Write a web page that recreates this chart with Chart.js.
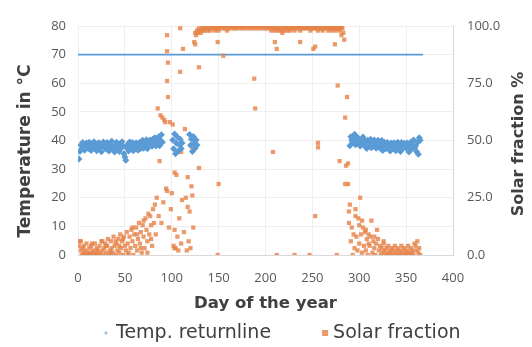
<!DOCTYPE html>
<html>
<head>
<meta charset="utf-8">
<script src="https://cdn.jsdelivr.net/npm/chart.js@4.4.1/dist/chart.umd.min.js"></script>
<style>
  html, body { margin: 0; padding: 0; background: #ffffff; }
  #wrap { width: 532px; height: 347px; }
</style>
</head>
<body>
<div id="wrap"><canvas id="grafico" width="532" height="347"></canvas></div>
<script>
// Temperatura de retorno (°C): tramos de dias consecutivos
const tempRunStart = [1, 101, 119, 290];
const tempRunValues = [
  [33.5, 36.2, 38.4, 37.1, 39.3, 38.0, 36.6, 37.8, 39.1, 38.3,
   37.2, 39.4, 38.1, 36.5, 38.7, 37.4, 39.6, 38.2, 37.0, 36.4,
   38.5, 39.2, 37.3, 38.8, 36.1, 38.2, 39.5, 37.6, 38.4, 37.0,
   39.3, 38.1, 36.3, 38.6, 37.5, 39.7, 38.0, 37.2, 36.0, 38.3,
   39.4, 37.1, 38.5, 36.2, 38.8, 37.3, 39.6, 38.1, 35.4, 34.2,
   33.1, 37.4, 38.6, 36.3, 39.5, 38.2, 37.0, 39.3, 36.4, 38.1,
   37.5, 39.2, 38.4, 36.6, 38.0, 39.4, 37.2, 38.7, 40.1, 37.3,
   39.0, 38.2, 40.3, 37.1, 39.5, 38.3, 40.2, 39.1, 38.0, 40.4,
   39.2, 41.0, 38.1, 40.3, 39.5, 41.3, 38.2, 40.1, 42.0, 39.4],
  [40.2, 37.1, 42.3, 35.4, 39.0, 41.2, 36.3, 38.5, 40.4, 37.2, 39.1],
  [42.1, 38.3, 40.5, 36.2, 41.4, 39.0, 37.3, 40.2, 38.4],
  [38.2, 41.3, 40.1, 39.4, 41.0, 42.2, 38.5, 40.3, 41.1, 39.2,
   40.4, 38.1, 40.2, 39.5, 41.2, 38.3, 40.0, 39.4, 37.2, 40.1,
   39.3, 38.0, 40.4, 37.5, 39.1, 38.4, 40.2, 39.0, 37.3, 38.6,
   40.1, 39.2, 37.4, 38.3, 40.0, 36.5, 38.2, 39.4, 37.1, 38.5,
   39.3, 37.2, 38.4, 36.3, 39.1, 38.0, 37.5, 39.2, 38.3, 36.4,
   38.1, 39.4, 37.0, 38.5, 36.2, 39.3, 38.1, 37.4, 39.0, 38.2,
   37.3, 39.1, 38.4, 36.0, 38.2, 39.5, 37.1, 38.3, 40.2, 37.4,
   38.1, 36.2, 39.3, 35.2, 41.0, 40.1]
];

// Linea horizontal de referencia (°C)
const refLineDays = [0, 368];
const refLineTemp = [70, 70];

// Fraccion solar (%), un valor por dia (dia 1 a 365)
const solarDaily = [
  4, 6, 2, 0, 3, 1, 0, 2, 5, 1,
  0, 3, 1, 4, 0, 2, 1, 5, 0, 3,
  2, 0, 4, 1, 6, 2, 0, 3, 5, 1,
  4, 7, 0, 2, 6, 3, 1, 8, 4, 0,
  5, 2, 7, 1, 9, 3, 6, 0, 8, 4,
  2, 10, 5, 1, 8, 3, 11, 6, 0, 9,
  4, 12, 2, 7, 14, 5, 10, 1, 13, 8,
  3, 16, 11, 6, 18, 9, 17, 13, 4, 20,
  14, 22, 9, 25, 64, 17, 41, 61, 14, 60,
  23, 59, 58, 29, 76, 69, 12, 58, 20, 27,
  57, 4, 11, 3, 35, 8, 2, 16, 99, 5,
  24, 90, 10, 55, 25, 2, 34, 6, 19, 3,
  30, 26, 12,
  93, 97, 96, 98, 97, 99, 98, 97, 99, 98,
  99, 98, 100, 99, 98, 99, 100, 98, 99, 100,
  99, 100, 98, 99, 100, 99, 98, 100, 99, 100,
  100, 99, 100, 99, 100, 98, 100, 99, 100, 100,
  99, 100, 100, 99, 100, 99, 100, 100, 99, 100,
  100, 99, 100, 100, 99, 100, 100, 99, 100, 100,
  99, 100, 100, 99, 100, 100, 99, 100, 100, 99,
  100, 100, 99, 100, 100, 99, 100, 99, 100, 100,
  99, 100, 98, 99, 100, 99, 98, 100, 99, 98,
  99, 100, 98, 99, 97, 99, 98, 100, 99, 98,
  100, 99, 98, 100, 99, 100, 99, 98, 100, 99,
  100, 99, 100, 98, 99, 100, 99, 100, 99, 100,
  99, 100, 99, 100, 98, 99, 100, 99, 100, 99,
  100, 99, 98, 100, 99, 100, 99, 98, 99, 100,
  99, 100, 99, 98, 99, 100, 99, 98, 99, 100,
  99, 98, 99, 100, 99, 98, 99, 100, 99, 97, 94,
  60, 39, 69, 31, 19, 22, 6, 12, 0, 9,
  3, 17, 8, 2, 16, 5, 25, 9, 1, 12,
  4, 10, 2, 7, 0, 5, 4, 8, 15, 1,
  6, 3, 0, 5, 11, 7, 2, 4, 0, 3,
  1, 5, 2, 0, 3, 1, 4, 0, 2, 1,
  3, 0, 2, 4, 1, 0, 3, 2, 0, 1,
  4, 2, 0, 3, 1, 0, 2, 4, 1, 0,
  3, 1, 2, 0, 5, 4, 2, 6, 1, 3, 0
];

// Puntos adicionales de fraccion solar (dias con mas de un valor)
const solarExtraDay = [3, 6, 12, 15, 20, 26, 30, 35, 40, 44, 48, 53, 58, 63, 67, 70, 74, 78,
  95, 95, 96, 95, 103, 103, 109, 110, 117, 122, 129, 125, 129,
  149, 150, 155, 188, 189, 208, 210, 212, 237, 251, 253, 256, 256, 274, 277, 279, 281,
  149, 212, 231, 247, 276, 253,
  285, 288, 289, 296, 300, 303, 307, 310, 316, 326];
const solarExtraPct = [6, 4, 0, 5, 1, 6, 4, 1, 6, 4, 7, 0, 12, 9, 3, 15, 1, 7,
  96, 89, 84, 28, 3, 36, 80, 45, 21, 47, 38, 92, 82,
  93, 31, 87, 77, 64, 45, 93, 90, 93, 90, 91, 47, 49, 92, 74, 41, 96,
  0, 0, 0, 0, 0, 17,
  31, 40, 14, 20, 13, 15, 11, 9, 8, 6];

// Armar puntos para el grafico
const puntosTemp = [];
tempRunStart.forEach((inicio, r) => {
  tempRunValues[r].forEach((v, i) => puntosTemp.push({ x: inicio + i, y: v }));
});
const puntosSolar = solarDaily.map((v, i) => ({ x: i + 1, y: v }));
solarExtraDay.forEach((d, i) => puntosSolar.push({ x: d, y: solarExtraPct[i] }));
const puntosLinea = refLineDays.map((d, i) => ({ x: d, y: refLineTemp[i] }));

const FUENTE = "'Open Sans', 'DejaVu Sans', sans-serif";
const FUENTE_TITULO = "'DejaVu Sans', sans-serif";
const gris = '#595959';
const oscuro = '#404040';
const grid = '#efefef';
const azul = '#5B9BD5';
const naranja = 'rgba(230, 130, 70, 0.8)';

function tituloVertical(c, texto, x, y, size) {
  c.save();
  c.translate(x, y);
  c.rotate(-Math.PI / 2);
  c.font = 'bold ' + size + 'px ' + FUENTE_TITULO;
  c.textAlign = 'center';
  c.textBaseline = 'middle';
  c.fillStyle = oscuro;
  c.fillText(texto, 0, 0);
  c.restore();
}

// Titulos de los ejes verticales y leyenda inferior
const extrasPlugin = {
  id: 'extras',
  afterDraw(chart) {
    const c = chart.ctx;

    tituloVertical(c, 'Temperature in °C', 26, 151, 17);
    tituloVertical(c, 'Solar fraction %', 519, 144, 16);

    // Leyenda
    const yLey = 333;
    c.save();
    c.font = '19px ' + FUENTE_TITULO;
    c.textBaseline = 'middle';
    const t1 = chart.data.datasets[0].label;
    const t2 = chart.data.datasets[1].label;
    let x = 103;
    c.fillStyle = 'rgba(91, 155, 213, 0.6)';
    c.beginPath();
    c.moveTo(x + 3, yLey - 2);
    c.lineTo(x + 5, yLey);
    c.lineTo(x + 3, yLey + 2);
    c.lineTo(x + 1, yLey);
    c.closePath();
    c.fill();
    c.fillStyle = oscuro;
    c.fillText(t1, x + 13, yLey);
    x = x + 13 + c.measureText(t1).width + 51;
    c.fillStyle = naranja;
    c.fillRect(x, yLey - 3, 6, 6);
    c.fillStyle = oscuro;
    c.fillText(t2, x + 11, yLey);
    c.restore();
  }
};

const ctx = document.getElementById('grafico').getContext('2d');
new Chart(ctx, {
  type: 'scatter',
  data: {
    datasets: [
      {
        label: 'Temp. returnline',
        data: puntosTemp,
        yAxisID: 'y',
        backgroundColor: azul,
        borderColor: azul,
        borderWidth: 0,
        pointStyle: 'rectRot',
        pointRadius: 3.5
      },
      {
        label: 'Solar fraction',
        data: puntosSolar,
        yAxisID: 'y1',
        backgroundColor: naranja,
        borderColor: naranja,
        borderWidth: 0,
        pointStyle: 'rect',
        pointRadius: 3
      },
      {
        type: 'line',
        label: '',
        data: puntosLinea,
        yAxisID: 'y',
        borderColor: azul,
        borderWidth: 1.6,
        pointRadius: 0,
        fill: false
      }
    ]
  },
  options: {
    responsive: false,
    animation: false,
    layout: { padding: { top: 26, left: 0, right: 0, bottom: 30 } },
    plugins: {
      tooltip: { enabled: false },
      legend: { display: false }
    },
    scales: {
      x: {
        type: 'linear',
        min: 0,
        max: 400,
        ticks: { stepSize: 50, color: gris, padding: 15, font: { family: FUENTE, size: 13 } },
        grid: { color: grid, drawTicks: false },
        border: { color: '#d9d9d9' },
        title: {
          display: true,
          text: 'Day of the year',
          color: oscuro,
          padding: { top: 0, bottom: 3 },
          font: { family: FUENTE_TITULO, size: 16.5, weight: 'bold' }
        },
        afterFit: s => { s.height = 62; }
      },
      y: {
        position: 'left',
        min: 0,
        max: 80,
        ticks: { stepSize: 10, color: gris, padding: 12, font: { family: FUENTE, size: 13 } },
        grid: { color: grid, drawTicks: false },
        border: { display: false },
        afterFit: s => { s.width = 78; }
      },
      y1: {
        position: 'right',
        min: 0,
        max: 100,
        ticks: {
          stepSize: 25,
          color: gris,
          padding: 14,
          font: { family: FUENTE, size: 13 },
          callback: v => v.toFixed(1)
        },
        grid: { drawOnChartArea: false, drawTicks: false },
        border: { color: '#d9d9d9' },
        afterFit: s => { s.width = 79; }
      }
    }
  },
  plugins: [extrasPlugin]
});
</script>
</body>
</html>
